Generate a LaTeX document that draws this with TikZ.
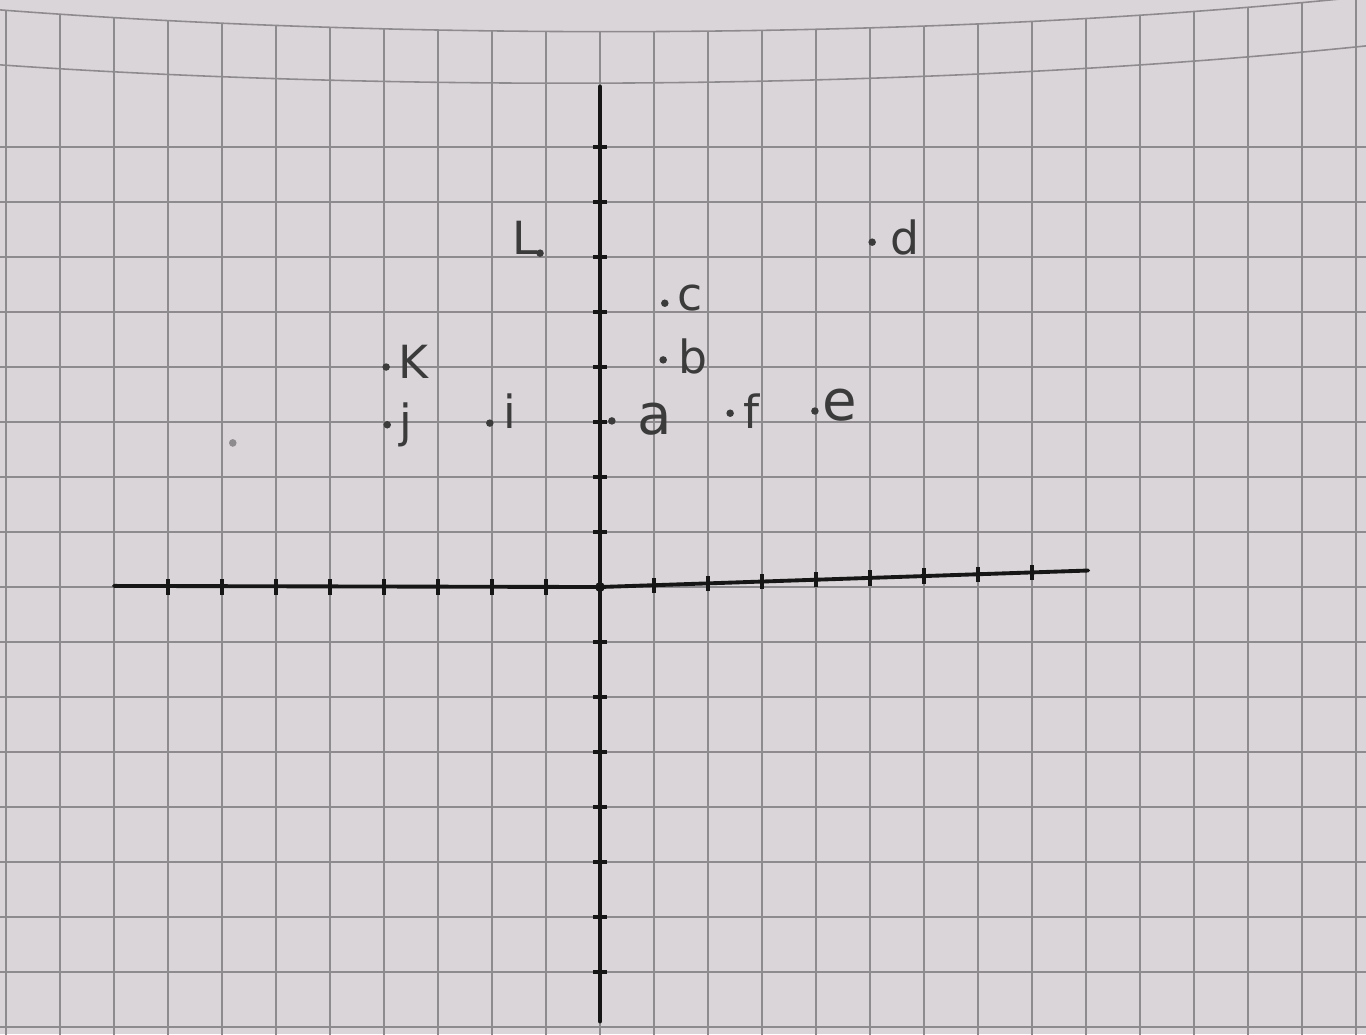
\documentclass[tikz,border=0pt]{standalone}
\usepackage{fontspec}
\setsansfont{DejaVu Sans}
\usepackage{tikz}
\definecolor{paper}{HTML}{D9D5D8}
\definecolor{gridgray}{HTML}{8E8B8E}
\definecolor{ink}{HTML}{161616}
\definecolor{pencil}{HTML}{3C3B3C}

\begin{document}
\begin{tikzpicture}[x=1.08cm, y=1.1cm,
    gridline/.style={gridgray, line width=0.9pt},
    axisline/.style={ink, line width=2.2pt, line cap=round},
    tickmark/.style={ink, line width=1.8pt},
    pt/.style={circle, fill=pencil, inner sep=0pt, minimum size=0.15cm},
    lbl/.style={text=pencil, inner sep=0pt, font=\sffamily\fontsize{26}{26}\selectfont},
    biglbl/.style={lbl, font=\sffamily\fontsize{32}{32}\selectfont}]
    \fill[paper] (-11.111,-8.127) rectangle (14.185,10.673);
    \useasboundingbox (-11.111,-8.127) rectangle (14.185,10.673);

    % grid of the paper
    \begin{scope}
      \clip (-11.2,-8.2) -- (14.3,-8.2) -- (14.3,10.75) .. controls (6,9.9) and (-4,9.95) .. (-11.2,10.5) -- cycle;
      \foreach \x in {-11,...,14} \draw[gridline] (\x,-8.2) -- (\x,11);
    \end{scope}
    \foreach \y in {-8,...,8} \draw[gridline] (-11.2,\y) -- (14.3,\y);
    \draw[gridline] (-11.2,9.5) .. controls (-4,9.0) and (6,9.0) .. (14.3,9.85);
    \draw[gridline] (-11.2,10.5) .. controls (-4,9.95) and (6,9.9) .. (14.3,10.75);

    % axes
    \coordinate (O) at (0,0);
    \coordinate (xmin) at (-9,0.02);
    \coordinate (xmax) at (9.04,0.3);
    \coordinate (ymin) at (0,-7.9);
    \coordinate (ymax) at (0,9.1);
    \draw[axisline] (xmin) -- (O) -- (xmax);
    \draw[axisline] (ymin) -- (ymax);
    \foreach \x in {-8,...,-1} \draw[tickmark] (\x,-0.14) -- (\x,0.14);
    \foreach \x in {1,...,8} \draw[tickmark] (\x,{0.033*\x-0.14}) -- (\x,{0.033*\x+0.14});
    \foreach \y in {-7,...,-1,1,2,...,8} \draw[tickmark] (-0.13,\y) -- (0.13,\y);
    \fill[ink] (O) circle (0.09);

    % plotted points
    \node[pt] (a) at (0.22,3.02) {};
    \node[biglbl] (la) at (1.02,3.05) {a};
    \node[pt] (b) at (1.17,4.13) {};
    \node[lbl] (lb) at (1.72,4.2) {b};
    \node[pt] (c) at (1.2,5.16) {};
    \node[lbl] (lc) at (1.67,5.25) {c};
    \node[pt] (d) at (5.04,6.27) {};
    \node[lbl] (ld) at (5.65,6.36) {d};
    \node[pt] (e) at (3.98,3.2) {};
    \node[biglbl] (le) at (4.44,3.3) {e};
    \node[pt] (f) at (2.41,3.16) {};
    \node[lbl] (lf) at (2.81,3.2) {f};
    \node[pt] (i) at (-2.04,2.98) {};
    \node[lbl] (li) at (-1.67,3.2) {i};
    \node[pt] (j) at (-3.94,2.95) {};
    \node[lbl] (lj) at (-3.6,2.95) {j};
    \node[pt] (k) at (-3.96,4.0) {};
    \node[lbl] (lk) at (-3.46,4.09) {K};
    \node[pt] (l) at (-1.11,6.07) {};
    \node[lbl] (ll) at (-1.39,6.35) {L};

    % stray mark on the paper
    \fill[gridgray] (-6.8,2.62) circle (0.07);
  \end{tikzpicture}
\end{document}
